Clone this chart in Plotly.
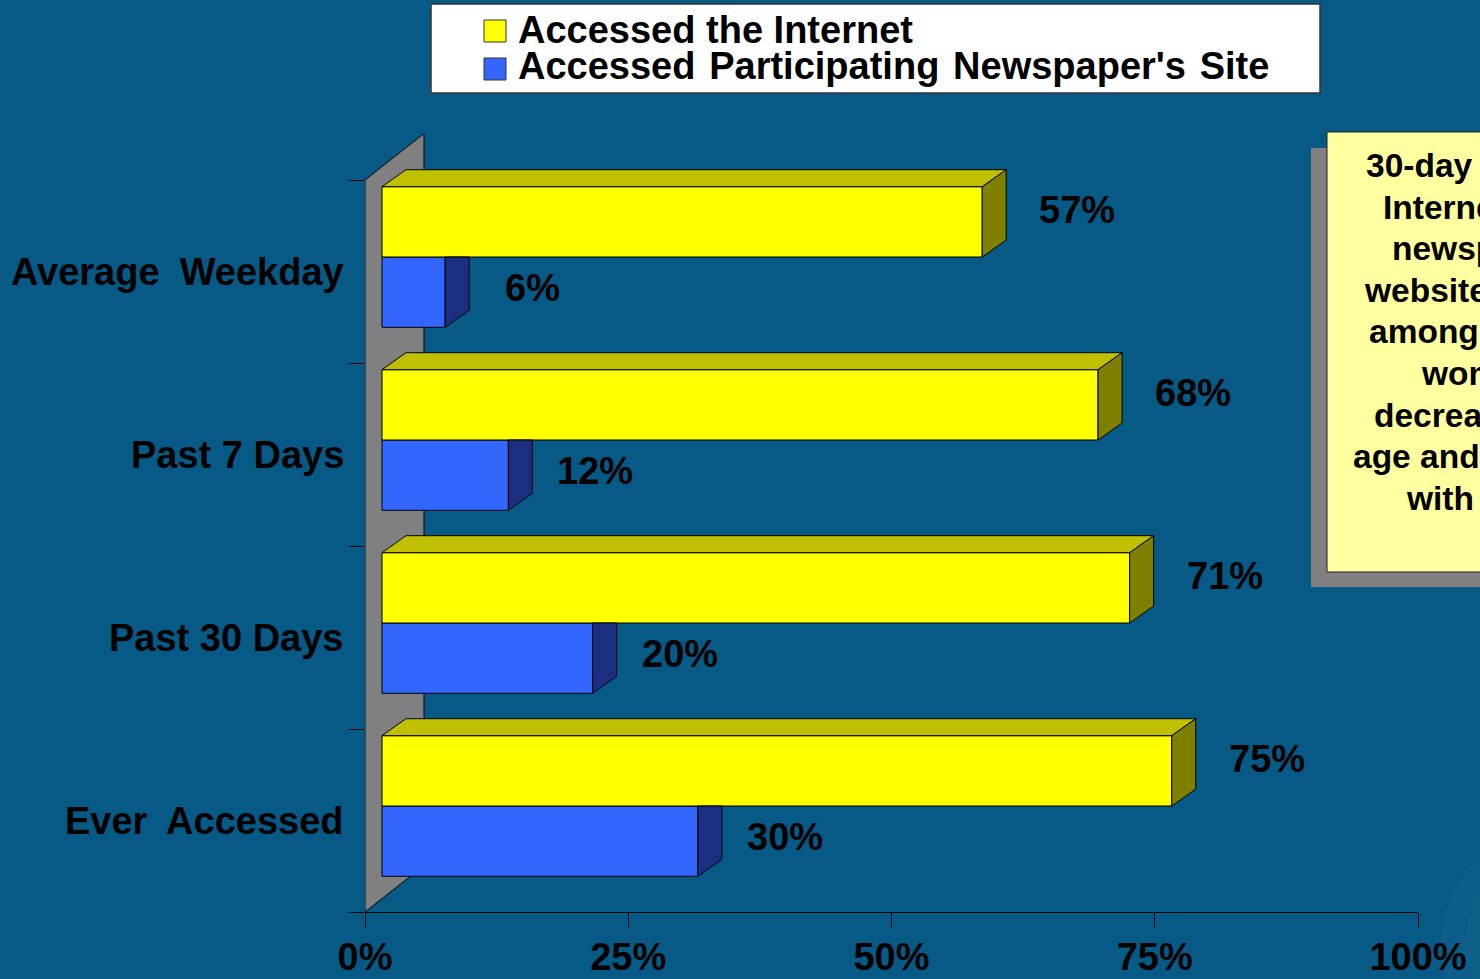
import plotly.graph_objects as go

# ---- data -------------------------------------------------------------
categories = ["Ever\u2005 Accessed", "Past 30 Days", "Past 7 Days", "Average\u2005 Weekday"]
internet = [75, 71, 68, 57]
newspaper_site = [30, 20, 12, 6]
series_names = ["Accessed the Internet",
                "Accessed\u200a Participating\u200a Newspaper's\u200a Site"]
x_ticks = [0, 25, 50, 75, 100]
x_tick_text = ["0%", "25%", "50%", "75%", "100%"]
note_lines = ["30-day access", "Internet and", "newspaper", "website usage",
              "among young", "women", "decreases as", "age and income", "with time"]

# ---- geometry / style -------------------------------------------------
W, H = 1480, 979
L, R, T, B = 365, 62, 125, 67
PLOT_W = W - L - R              # px for 0..100 %
PLOT_H = H - T - B
BAND = 183.0                    # px per category band
Y_MAX = PLOT_H / BAND
PX = PLOT_W / 100.0             # px per percent

FRONT_DX = 17 / PX              # front plane offset from the axis
DEPTH_DX = 24 / PX              # bar depth, horizontal component
DEPTH_DY = 17 / BAND            # bar depth, vertical component
WALL_DX = 59 / PX
WALL_DY = 46.5 / BAND
BAR_H = 70.3 / BAND
LIFT = 14.5 / BAND

BG = "#085A86"
YEL, YEL_TOP, YEL_SIDE = "#FFFF00", "#C0C000", "#808000"
BLU, BLU_SIDE = "#3366FF", "#1A2F80"
FONT = "Liberation Sans, Arial, Helvetica, sans-serif"

yel_center = [i + 0.5 + LIFT + BAR_H / 2 for i in range(len(categories))]
blu_center = [i + 0.5 + LIFT - BAR_H / 2 for i in range(len(categories))]

fig = go.Figure()

# front faces
fig.add_trace(go.Bar(orientation="h", x=newspaper_site, y=blu_center, base=FRONT_DX,
                     width=BAR_H, marker=dict(color=BLU, line=dict(color="black", width=1)),
                     name=series_names[1], showlegend=False, hoverinfo="skip"))
fig.add_trace(go.Bar(orientation="h", x=internet, y=yel_center, base=FRONT_DX,
                     width=BAR_H, marker=dict(color=YEL, line=dict(color="black", width=1)),
                     name=series_names[0], showlegend=False, hoverinfo="skip"))


def poly_trace(polys, color):
    xs, ys = [], []
    for p in polys:
        for (a, b) in p + [p[0]]:
            xs.append(a)
            ys.append(b)
        xs.append(None)
        ys.append(None)
    return go.Scatter(x=xs, y=ys, mode="lines", fill="toself", fillcolor=color,
                      line=dict(color="black", width=1), showlegend=False,
                      hoverinfo="skip")


# blue side faces (upper part hidden behind the yellow bar)
blue_sides = []
for v, c in zip(newspaper_site, blu_center):
    x0 = FRONT_DX + v
    top, bot = c + BAR_H / 2, c - BAR_H / 2
    blue_sides.append([(x0, top), (x0 + DEPTH_DX, top),
                       (x0 + DEPTH_DX, bot + DEPTH_DY), (x0, bot)])
fig.add_trace(poly_trace(blue_sides, BLU_SIDE))

# yellow top and side faces
yel_tops, yel_sides = [], []
for v, c in zip(internet, yel_center):
    x0 = FRONT_DX
    x1 = FRONT_DX + v
    top, bot = c + BAR_H / 2, c - BAR_H / 2
    yel_tops.append([(x0, top), (x0 + DEPTH_DX, top + DEPTH_DY),
                     (x1 + DEPTH_DX, top + DEPTH_DY), (x1, top)])
    yel_sides.append([(x1, top), (x1 + DEPTH_DX, top + DEPTH_DY),
                      (x1 + DEPTH_DX, bot + DEPTH_DY), (x1, bot)])
fig.add_trace(poly_trace(yel_tops, YEL_TOP))
fig.add_trace(poly_trace(yel_sides, YEL_SIDE))

n = len(categories)


def px_x(p):
    return (p - L) / PLOT_W


def px_y(p):
    return (H - B - p) / PLOT_H


shapes = []
# faint glow in the lower right corner of the slide
for r, a in [(120, 0.035), (95, 0.035), (72, 0.04), (50, 0.045)]:
    shapes.append(dict(type="circle", xref="paper", yref="paper", layer="below",
                       x0=px_x(1560 - r), x1=px_x(1560 + r),
                       y0=px_y(945 + r), y1=px_y(945 - r),
                       fillcolor=f"rgba(150,200,230,{a})", line=dict(width=0)))
# grey back wall
shapes.append(dict(type="path", xref="x", yref="y", layer="below",
                   path=f"M 0,0 L 0,{n} L {WALL_DX},{n + WALL_DY} L {WALL_DX},{WALL_DY} Z",
                   fillcolor="#808080", line=dict(color="black", width=1)))

# legend box
shapes.append(dict(type="rect", xref="paper", yref="paper",
                   x0=px_x(431), x1=px_x(1320), y0=px_y(93), y1=px_y(4),
                   fillcolor="white", line=dict(color="#333333", width=1.5)))
for (ytop, col) in [(20, YEL), (58, BLU)]:
    shapes.append(dict(type="rect", xref="paper", yref="paper",
                       x0=px_x(484), x1=px_x(506), y0=px_y(ytop + 22), y1=px_y(ytop),
                       fillcolor=col, line=dict(color="#333333", width=1)))

# note box with shadow
shapes.append(dict(type="rect", xref="paper", yref="paper",
                   x0=px_x(1311), x1=px_x(1700), y0=px_y(587), y1=px_y(148),
                   fillcolor="#808080", line=dict(width=0)))
shapes.append(dict(type="rect", xref="paper", yref="paper",
                   x0=px_x(1327), x1=px_x(1700), y0=px_y(572), y1=px_y(132),
                   fillcolor="#FFFFA0", line=dict(color="#222222", width=1)))

annotations = []
bold = dict(family=FONT, size=38, color="black", weight="bold")

# category labels
for i, name in enumerate(categories):
    annotations.append(dict(x=0, y=i + 0.5, xref="x", yref="y", text=name,
                            showarrow=False, xanchor="right", yanchor="middle",
                            xshift=-19, font=bold))

# value labels
for v, c in zip(internet, yel_center):
    annotations.append(dict(x=FRONT_DX + v + DEPTH_DX, y=c, xref="x", yref="y",
                            text=f"{v}%", showarrow=False, xanchor="center",
                            yanchor="middle", xshift=71, yshift=12, font=bold))
for v, c in zip(newspaper_site, blu_center):
    annotations.append(dict(x=FRONT_DX + v + DEPTH_DX, y=c, xref="x", yref="y",
                            text=f"{v}%", showarrow=False, xanchor="center",
                            yanchor="middle", xshift=63, yshift=4, font=bold))

# legend entries
for name, yc in zip(series_names, [30, 66]):
    annotations.append(dict(x=px_x(516), y=px_y(yc), xref="paper", yref="paper",
                            text=name, showarrow=False, xanchor="left",
                            yanchor="middle", font=bold))

# note text, one line per annotation so the leading stays tight
note_font = dict(family=FONT, size=33.5, color="black", weight="bold")
for k, line in enumerate(note_lines):
    annotations.append(dict(x=px_x(1479), y=px_y(165.5 + 41.6 * k), xref="paper",
                            yref="paper", text=line, showarrow=False,
                            xanchor="center", yanchor="middle", font=note_font))

fig.update_layout(
    width=W, height=H,
    margin=dict(l=L, r=R, t=T, b=B, pad=0, autoexpand=False),
    paper_bgcolor=BG, plot_bgcolor=BG,
    barmode="overlay",
    showlegend=False,
    shapes=shapes,
    annotations=annotations,
    xaxis=dict(range=[0, 100], tickvals=x_ticks, ticktext=x_tick_text,
               ticks="outside", ticklen=14, tickwidth=1, tickcolor="black",
               ticklabelstandoff=-3,
               showline=True, linecolor="black", linewidth=1,
               showgrid=False, zeroline=False, fixedrange=True,
               automargin=False, tickfont=bold),
    yaxis=dict(range=[0, Y_MAX], tickvals=list(range(n + 1)),
               ticks="outside", ticklen=15, tickwidth=1, tickcolor="black",
               showticklabels=False, showline=False, showgrid=False,
               zeroline=False, fixedrange=True, automargin=False),
)

fig.write_html("out.html")
